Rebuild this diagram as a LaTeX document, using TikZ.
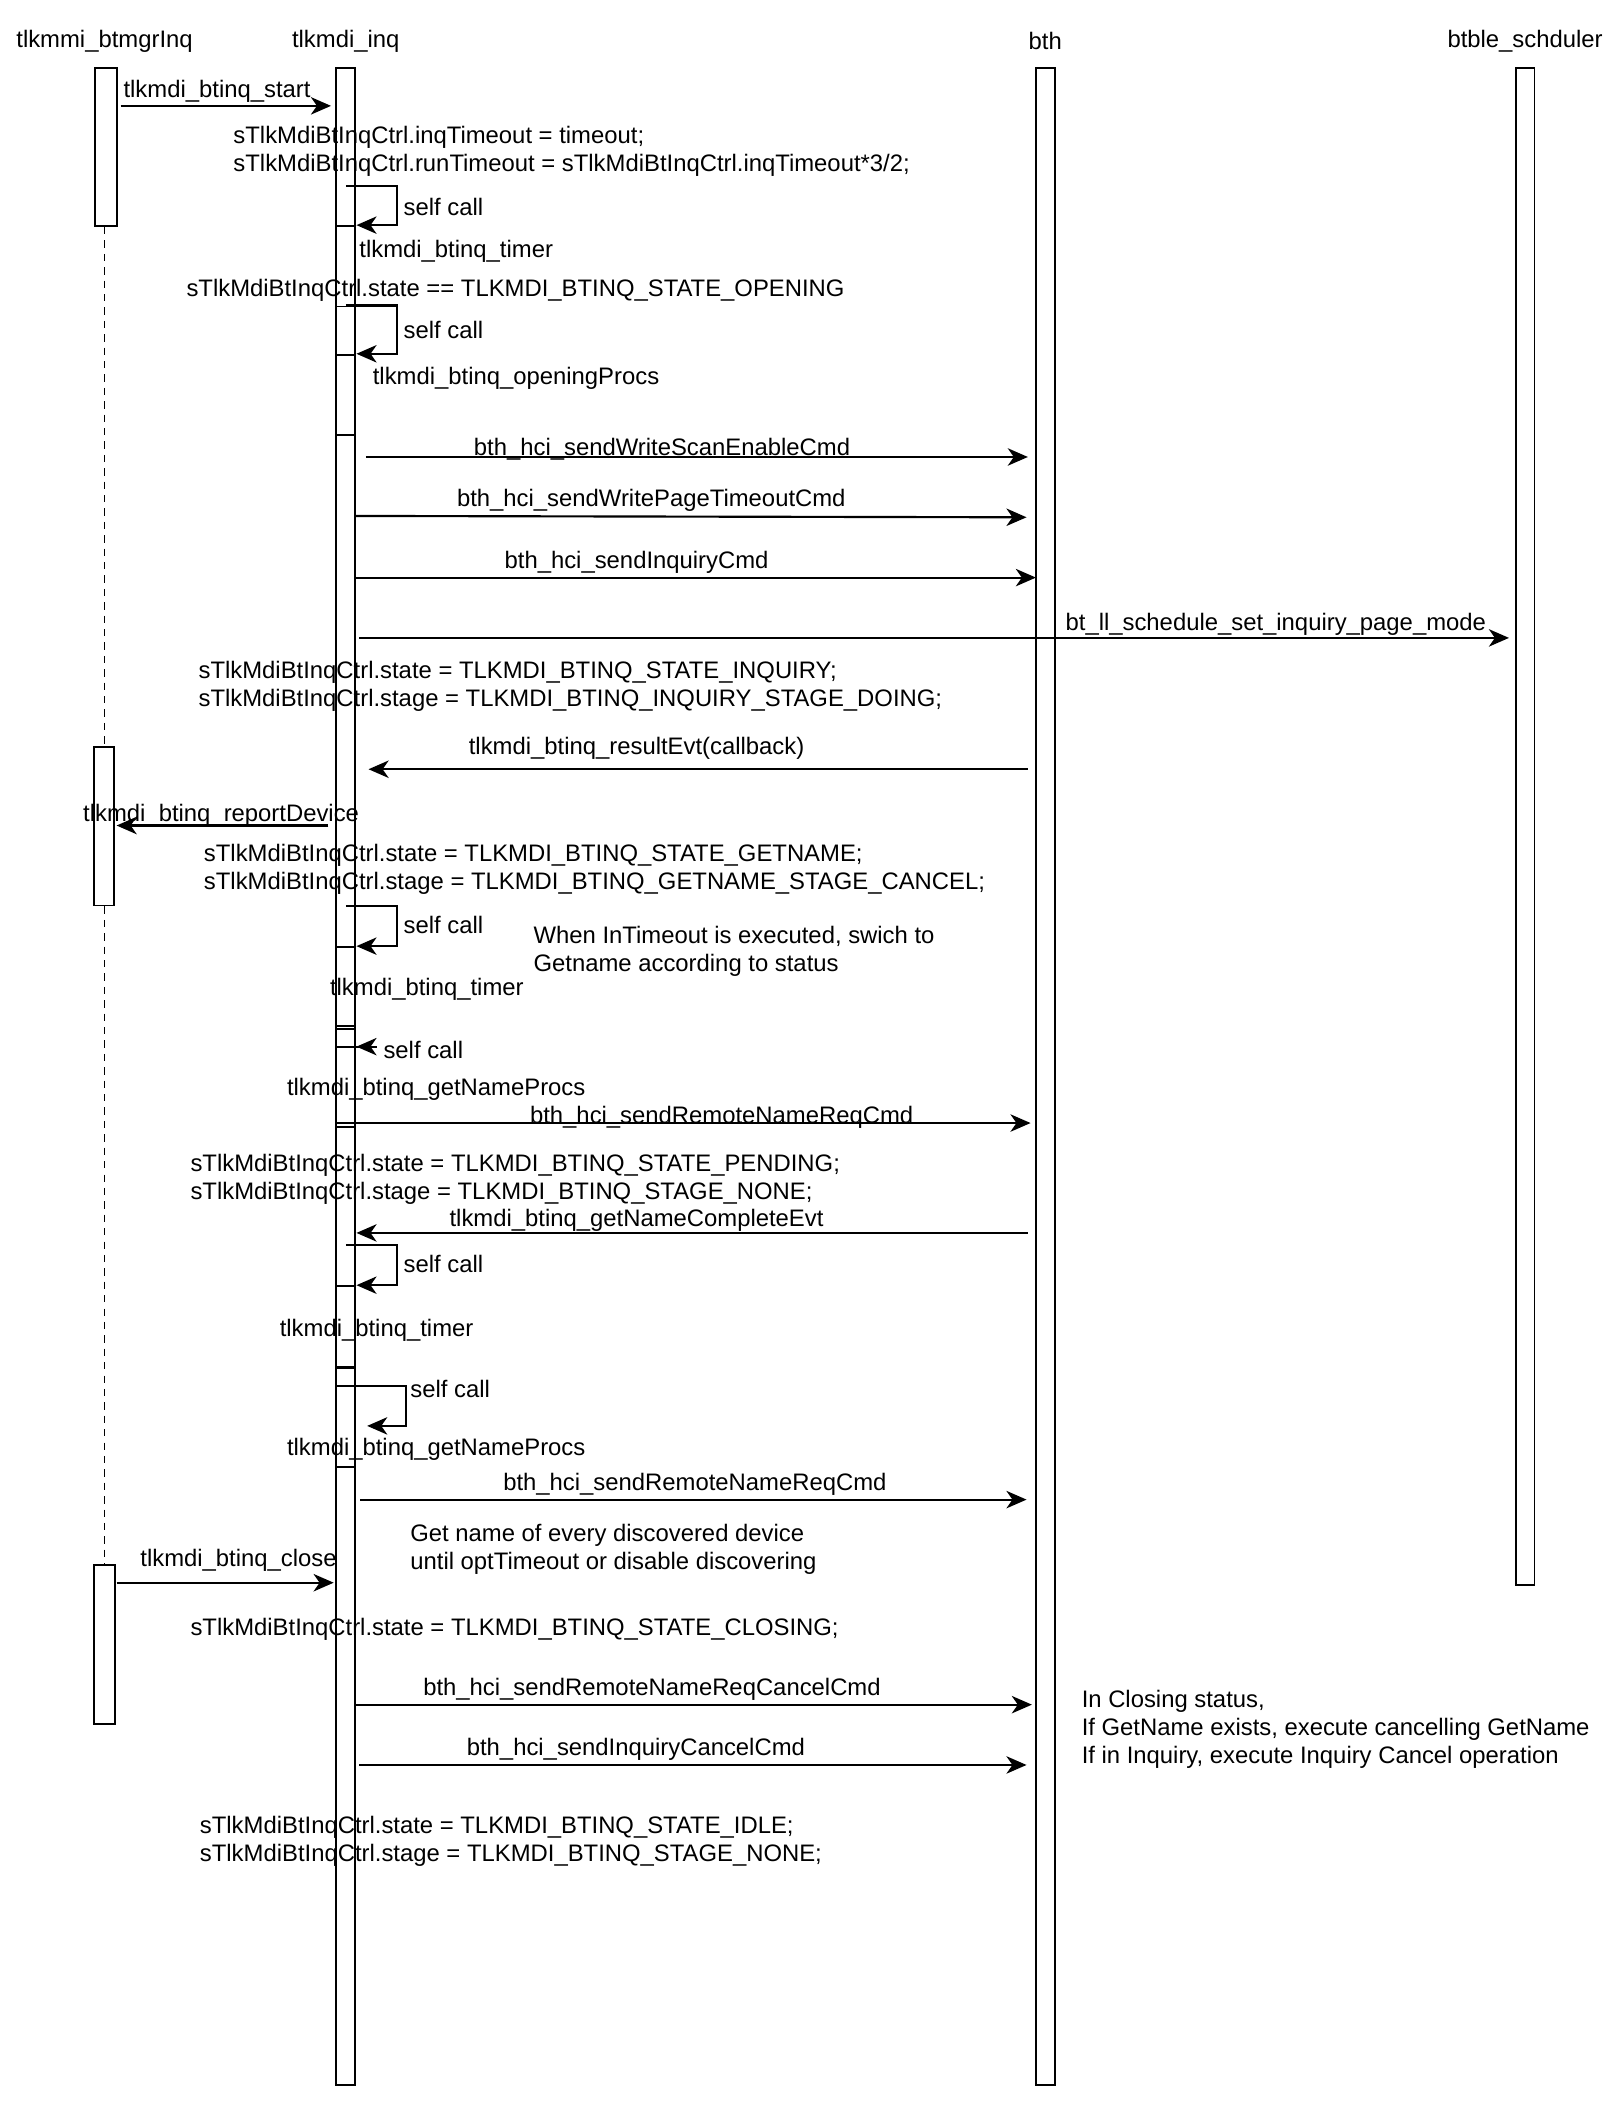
\documentclass[tikz,border=0pt]{standalone}
\usepackage{fontspec}
\setmainfont{Liberation Sans}
\usetikzlibrary{arrows.meta}
\tikzset{
  lbl/.style={font=\fontsize{17.8}{21}\selectfont, inner sep=0pt, text=black, yshift=-2.5pt},
  txt/.style={lbl, anchor=west, align=left},
  life/.style={draw, fill=white, line width=1.4pt, minimum width=14pt, anchor=north, inner sep=0pt},
  actbox/.style={life},
  msg/.style={line width=1.6pt, -{Stealth[length=15pt,width=13pt,inset=4.5pt]}},
  plain/.style={line width=1.6pt},
  lifedash/.style={line width=1.3pt, dash pattern=on 5.5pt off 4.5pt},
}
\begin{document}
\begin{tikzpicture}[x=1pt,y=-1pt]
\useasboundingbox (0,0) rectangle (1210.3,1570);
% headers
\node[lbl] (h1) at (78,28) {tlkmmi\_btmgrInq};
\node[lbl] (h2) at (258,28) {tlkmdi\_inq};
\node[lbl] (h3) at (780,28) {bth};
\node[lbl] (h4) at (1138,28) {btble\_schduler};
% tlkmmi_btmgrInq lifeline
\node[life, minimum width=16pt, minimum height=118pt] (mmiA) at (79,50) {};
\node[life, minimum width=15pt, minimum height=118pt] (mmiB) at (77.5,557) {};
\node[life, minimum width=16pt, minimum height=119pt] (mmiC) at (78,1167) {};
\draw[lifedash] (mmiA.south -| 78,0) -- (mmiB.north -| 78,0);
\draw[lifedash] (mmiB.south -| 78,0) -- (mmiC.north -| 78,0);
% other lifelines
\node[life, minimum height=1505pt] (inq) at (258,50) {};
\node[life, minimum height=1505pt] (bth) at (780,50) {};
\node[life, minimum height=1132pt] (sch) at (1138,50) {};
% activation boxes on tlkmdi_inq
\node[actbox, minimum height=60pt] (a1) at (258,168) {};
\node[actbox, minimum height=60pt] (a2) at (258,264) {};
\node[actbox, minimum height=59pt] (a3) at (258,706) {};
\node[actbox, minimum height=73pt] (a4) at (258,767) {};
\node[actbox, minimum height=60pt] (a5) at (258,959) {};
\node[actbox, minimum height=74pt] (a6) at (258,1020) {};

% coordinates
\coordinate (c1a) at (90,79);    \coordinate (c1b) at (247,79);
\coordinate (s1a) at (258,139);  \coordinate (s1b) at (296,168);  \coordinate (s1c) at (266,168);
\coordinate (s2a) at (258,228);  \coordinate (s2b) at (296,264);  \coordinate (s2c) at (266,264);
\coordinate (c2a) at (273,341);  \coordinate (c2b) at (767,341);
\coordinate (c3a) at (265,385);  \coordinate (c3b) at (766,386);
\coordinate (c4a) at (266,431);  \coordinate (c4b) at (773,431);
\coordinate (c5a) at (268,476);  \coordinate (c5b) at (1126,476);
\coordinate (c6a) at (767,574);  \coordinate (c6b) at (275,574);
\coordinate (c7a) at (245,616);  \coordinate (c7b) at (87,616);
\coordinate (s3a) at (258,676);  \coordinate (s3b) at (296,706);  \coordinate (s3c) at (266,706);
\coordinate (s4a) at (251,781);  \coordinate (s4b) at (281,781);  \coordinate (s4c) at (266,781);
\coordinate (c8a) at (251,838);  \coordinate (c8b) at (769,838);
\coordinate (c9a) at (767,920);  \coordinate (c9b) at (266,920);
\coordinate (s5a) at (258,929);  \coordinate (s5b) at (296,959);  \coordinate (s5c) at (266,959);
\coordinate (s6a) at (251,1034); \coordinate (s6b) at (303,1064); \coordinate (s6c) at (274,1064);
\coordinate (c10a) at (269,1119); \coordinate (c10b) at (766,1119);
\coordinate (c11a) at (87,1181);  \coordinate (c11b) at (249,1181);
\coordinate (c12a) at (265,1272); \coordinate (c12b) at (770,1272);
\coordinate (c13a) at (268,1317); \coordinate (c13b) at (766,1317);

% messages
\draw[msg] (c1a) -- (c1b);
\draw[msg] (s1a) -| (s1b) -- (s1c);
\draw[msg] (s2a) -| (s2b) -- (s2c);
\draw[msg] (c2a) -- (c2b);
\draw[msg] (c3a) -- (c3b);
\draw[msg] (c4a) -- (c4b);
\draw[msg] (c5a) -- (c5b);
\draw[msg] (c6a) -- (c6b);
\draw[msg] (c7a) -- (c7b);
\draw[msg] (s3a) -| (s3b) -- (s3c);
\draw[plain] (s4a) -- (s4b);
\draw[msg] (s4b) -- (s4c);
\draw[msg] (c8a) -- (c8b);
\draw[msg] (c9a) -- (c9b);
\draw[msg] (s5a) -| (s5b) -- (s5c);
\draw[msg] (s6a) -| (s6b) -- (s6c);
\draw[msg] (c10a) -- (c10b);
\draw[msg] (c11a) -- (c11b);
\draw[msg] (c12a) -- (c12b);
\draw[msg] (c13a) -- (c13b);

% labels
\node[txt] (l1) at (92,66) {tlkmdi\_btinq\_start};
\node[txt] (t1) at (174,110.5) {sTlkMdiBtInqCtrl.inqTimeout = timeout;\\sTlkMdiBtInqCtrl.runTimeout = sTlkMdiBtInqCtrl.inqTimeout*3/2;};
\node[txt] (sc1) at (301,152) {self call};
\node[txt] (t2) at (268,185) {tlkmdi\_btinq\_timer};
\node[txt] (t3) at (139,214) {sTlkMdiBtInqCtrl.state == TLKMDI\_BTINQ\_STATE\_OPENING};
\node[txt] (sc2) at (301,244) {self call};
\node[txt] (t4) at (278,280) {tlkmdi\_btinq\_openingProcs};
\node[lbl] (l2) at (494,333) {bth\_hci\_sendWriteScanEnableCmd};
\node[lbl] (l3) at (486,371) {bth\_hci\_sendWritePageTimeoutCmd};
\node[lbl] (l4) at (475,417) {bth\_hci\_sendInquiryCmd};
\node[lbl] (l5) at (952,463) {bt\_ll\_schedule\_set\_inquiry\_page\_mode};
\node[txt] (t5) at (148,509.5) {sTlkMdiBtInqCtrl.state = TLKMDI\_BTINQ\_STATE\_INQUIRY;\\sTlkMdiBtInqCtrl.stage = TLKMDI\_BTINQ\_INQUIRY\_STAGE\_DOING;};
\node[lbl] (l6) at (475,556) {tlkmdi\_btinq\_resultEvt(callback)};
\node[lbl] (l7) at (165,606) {tlkmdi\_btinq\_reportDevice};
\node[txt] (t6) at (152,646.5) {sTlkMdiBtInqCtrl.state = TLKMDI\_BTINQ\_STATE\_GETNAME;\\sTlkMdiBtInqCtrl.stage = TLKMDI\_BTINQ\_GETNAME\_STAGE\_CANCEL;};
\node[txt] (sc3) at (301,688) {self call};
\node[txt] (n1) at (398,707.5) {When InTimeout is executed, swich to\\Getname according to status};
\node[lbl] (t7) at (318.5,736) {tlkmdi\_btinq\_timer};
\node[txt] (sc4) at (286,781) {self call};
\node[lbl] (t8) at (325.5,810) {tlkmdi\_btinq\_getNameProcs};
\node[lbl] (l8) at (538.5,831) {bth\_hci\_sendRemoteNameReqCmd};
\node[txt] (t9) at (142,877.5) {sTlkMdiBtInqCtrl.state = TLKMDI\_BTINQ\_STATE\_PENDING;\\sTlkMdiBtInqCtrl.stage = TLKMDI\_BTINQ\_STAGE\_NONE;};
\node[lbl] (l9) at (475,908) {tlkmdi\_btinq\_getNameCompleteEvt};
\node[txt] (sc5) at (301,941) {self call};
\node[lbl] (t10) at (281,990) {tlkmdi\_btinq\_timer};
\node[txt] (sc6) at (306,1034) {self call};
\node[lbl] (t11) at (325.5,1079) {tlkmdi\_btinq\_getNameProcs};
\node[lbl] (l10) at (518.5,1105) {bth\_hci\_sendRemoteNameReqCmd};
\node[txt] (n2) at (306,1153.5) {Get name of every discovered device\\until optTimeout or disable discovering};
\node[lbl] (l11) at (178,1162) {tlkmdi\_btinq\_close};
\node[txt] (t12) at (142,1213) {sTlkMdiBtInqCtrl.state = TLKMDI\_BTINQ\_STATE\_CLOSING;};
\node[lbl] (l12) at (486.5,1258) {bth\_hci\_sendRemoteNameReqCancelCmd};
\node[lbl] (l13) at (474.5,1303) {bth\_hci\_sendInquiryCancelCmd};
\node[txt] (n3) at (807,1288) {In Closing status,\\If GetName exists, execute cancelling GetName\\If in Inquiry, execute Inquiry Cancel operation};
\node[txt] (t13) at (149,1371.5) {sTlkMdiBtInqCtrl.state = TLKMDI\_BTINQ\_STATE\_IDLE;\\sTlkMdiBtInqCtrl.stage = TLKMDI\_BTINQ\_STAGE\_NONE;};
\end{tikzpicture}
\end{document}
